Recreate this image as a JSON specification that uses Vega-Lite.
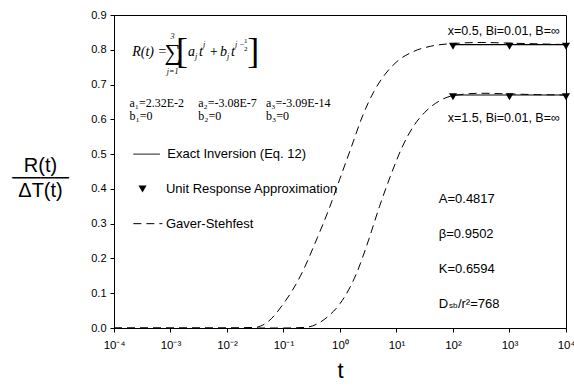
{
  "$schema": "https://vega.github.io/schema/vega-lite/v6.json",
  "width": 452,
  "height": 313,
  "autosize": {"type": "none"},
  "padding": {"left": 114, "top": 15, "right": 8, "bottom": 58},
  "background": "white",
  "config": {
    "view": {"stroke": "black", "strokeWidth": 1},
    "axis": {"grid": false, "domainColor": "black", "tickColor": "black", "labelColor": "black", "titleColor": "black", "labelFont": "Liberation Sans", "titleFont": "Liberation Sans", "labelFontSize": 11, "tickSize": 4, "titleFontWeight": "normal"}
  },
  "datasets": {
    "gs": [
      {"t": 0.0001, "r": 0, "s": "x05"},
      {"t": 0.001, "r": 0, "s": "x05"},
      {"t": 0.01, "r": 0, "s": "x05"},
      {"t": 0.0316, "r": 0.002, "s": "x05"},
      {"t": 0.0501, "r": 0.015, "s": "x05"},
      {"t": 0.1, "r": 0.07, "s": "x05"},
      {"t": 0.2, "r": 0.15, "s": "x05"},
      {"t": 0.398, "r": 0.26, "s": "x05"},
      {"t": 0.631, "r": 0.34, "s": "x05"},
      {"t": 1.0, "r": 0.43, "s": "x05"},
      {"t": 1.585, "r": 0.52, "s": "x05"},
      {"t": 2.512, "r": 0.61, "s": "x05"},
      {"t": 3.981, "r": 0.68, "s": "x05"},
      {"t": 6.31, "r": 0.73, "s": "x05"},
      {"t": 10, "r": 0.765, "s": "x05"},
      {"t": 19.95, "r": 0.795, "s": "x05"},
      {"t": 39.8, "r": 0.81, "s": "x05"},
      {"t": 100, "r": 0.818, "s": "x05"},
      {"t": 316, "r": 0.821, "s": "x05"},
      {"t": 1000, "r": 0.819, "s": "x05"},
      {"t": 3162, "r": 0.817, "s": "x05"},
      {"t": 10000, "r": 0.815, "s": "x05"},
      {"t": 0.0001, "r": 0, "s": "x15"},
      {"t": 0.01, "r": 0, "s": "x15"},
      {"t": 0.1, "r": 0, "s": "x15"},
      {"t": 0.251, "r": 0.002, "s": "x15"},
      {"t": 0.398, "r": 0.012, "s": "x15"},
      {"t": 0.631, "r": 0.035, "s": "x15"},
      {"t": 1.0, "r": 0.07, "s": "x15"},
      {"t": 1.995, "r": 0.16, "s": "x15"},
      {"t": 3.162, "r": 0.25, "s": "x15"},
      {"t": 5.012, "r": 0.35, "s": "x15"},
      {"t": 7.943, "r": 0.44, "s": "x15"},
      {"t": 12.59, "r": 0.52, "s": "x15"},
      {"t": 19.95, "r": 0.58, "s": "x15"},
      {"t": 31.62, "r": 0.62, "s": "x15"},
      {"t": 56.2, "r": 0.652, "s": "x15"},
      {"t": 100, "r": 0.668, "s": "x15"},
      {"t": 316, "r": 0.675, "s": "x15"},
      {"t": 1000, "r": 0.673, "s": "x15"},
      {"t": 3162, "r": 0.671, "s": "x15"},
      {"t": 10000, "r": 0.67, "s": "x15"}
    ],
    "exact": [
      {"t": 100, "r": 0.815, "s": "x05"},
      {"t": 10000, "r": 0.815, "s": "x05"},
      {"t": 100, "r": 0.67, "s": "x15"},
      {"t": 10000, "r": 0.67, "s": "x15"}
    ],
    "ura": [
      {"t": 100, "r": 0.81},
      {"t": 1000, "r": 0.81},
      {"t": 10000, "r": 0.81},
      {"t": 100, "r": 0.665},
      {"t": 1000, "r": 0.665},
      {"t": 10000, "r": 0.665},
      {"t": 0.00032, "r": 0.4}
    ],
    "legendLines": [
      {"t1": 0.00022, "t2": 0.00065, "r": 0.5, "kind": "solid"},
      {"t1": 0.00022, "t2": 0.00072, "r": 0.3, "kind": "dashed"}
    ],
    "sans13": [
      {"t": 0.00088, "r": 0.5, "label": "Exact Inversion (Eq. 12)"},
      {"t": 0.00083, "r": 0.4, "label": "Unit Response Approximation"},
      {"t": 0.00083, "r": 0.3, "label": "Gaver-Stehfest"},
      {"t": 56, "r": 0.37, "label": "A=0.4817"},
      {"t": 56, "r": 0.27, "label": "β=0.9502"},
      {"t": 56, "r": 0.17, "label": "K=0.6594"},
      {"t": 56, "r": 0.07, "label": "D"},
      {"t": 122, "r": 0.07, "label": "/r²=768"}
    ],
    "sub8": [
      {"t": 85, "r": 0.062, "label": "sb"}
    ],
    "sans12r": [
      {"t": 7800, "r": 0.853, "label": "x=0.5, Bi=0.01, B=∞"},
      {"t": 7800, "r": 0.603, "label": "x=1.5, Bi=0.01, B=∞"}
    ],
    "coef": [
      {"t": 0.000188, "r": 0.648, "label": "a₁=2.32E-2"},
      {"t": 0.000188, "r": 0.61, "label": "b₁=0"},
      {"t": 0.0031, "r": 0.648, "label": "a₂=-3.08E-7"},
      {"t": 0.0031, "r": 0.61, "label": "b₂=0"},
      {"t": 0.049, "r": 0.648, "label": "a₃=-3.09E-14"},
      {"t": 0.049, "r": 0.61, "label": "b₃=0"}
    ],
    "formula": [
      {"t": 0.00021, "r": 0.793, "label": "R(t) ="},
      {"t": 0.002042, "r": 0.793, "label": "a"},
      {"t": 0.003195, "r": 0.793, "label": "t"},
      {"t": 0.0048, "r": 0.793, "label": "+"},
      {"t": 0.007516, "r": 0.793, "label": "b"},
      {"t": 0.01178, "r": 0.793, "label": "t"}
    ],
    "scripts": [
      {"t": 0.002716, "r": 0.778, "label": "j"},
      {"t": 0.003758, "r": 0.815, "label": "j"},
      {"t": 0.01, "r": 0.778, "label": "j"},
      {"t": 0.01386, "r": 0.815, "label": "j −"}
    ],
    "half": [
      {"t": 0.0215, "r": 0.824, "label": "1"},
      {"t": 0.0215, "r": 0.803, "label": "2"}
    ],
    "sigma": [
      {"t": 0.00109, "r": 0.792, "label": "∑"}
    ],
    "limits": [
      {"t": 0.00109, "r": 0.836, "label": "3"},
      {"t": 0.00109, "r": 0.735, "label": "j=1"}
    ],
    "brackets": [
      {"t": 0.0016, "r": 0.795, "label": "["},
      {"t": 0.0292, "r": 0.795, "label": "]"}
    ]
  },
  "encoding": {
    "x": {"field": "t", "type": "quantitative", "scale": {"type": "log", "domain": [0.0001, 10000]},
      "axis": {"title": "t", "titleFontSize": 22, "titlePadding": 10, "values": [0.0001, 0.001, 0.01, 0.1, 1, 10, 100, 1000, 10000],
        "labelExpr": "['10⁻⁴','10⁻³','10⁻²','10⁻¹','10⁰','10¹','10²','10³','10⁴'][round(log(datum.value)/LN10)+4]", "labelPadding": 7, "labelFontSize": 11.5, "labelFlush": false}},
    "y": {"field": "r", "type": "quantitative", "scale": {"domain": [0, 0.9], "nice": false, "zero": true},
      "axis": {"title": ["R(t)", "────", "ΔT(t)"], "titleFontSize": 20, "titleLineHeight": 12.5, "titleAngle": 0, "titleX": -74, "titleY": 150, "titleAlign": "center", "titleBaseline": "middle",
        "values": [0, 0.1, 0.2, 0.3, 0.4, 0.5, 0.6, 0.7, 0.8, 0.9], "format": ".1f", "labelPadding": 4}}
  },
  "layer": [
    {"data": {"name": "gs"}, "mark": {"type": "line", "color": "black", "strokeWidth": 1, "strokeDash": [8, 5], "interpolate": "monotone"},
      "encoding": {"detail": {"field": "s"}}},
    {"data": {"name": "exact"}, "mark": {"type": "line", "color": "black", "strokeWidth": 1.2},
      "encoding": {"detail": {"field": "s"}}},
    {"data": {"name": "ura"}, "mark": {"type": "point", "shape": "triangle-down", "filled": true, "color": "black", "opacity": 1, "size": 65}},
    {"data": {"name": "legendLines"}, "mark": {"type": "rule", "color": "black", "strokeWidth": 1},
      "encoding": {"x": {"field": "t1", "type": "quantitative"}, "x2": {"field": "t2"},
        "strokeDash": {"field": "kind", "type": "nominal", "scale": {"domain": ["solid", "dashed"], "range": [[1, 0], [8, 5]]}, "legend": null}}},
    {"data": {"name": "sans13"}, "mark": {"type": "text", "font": "Liberation Sans", "fontSize": 13, "align": "left", "baseline": "middle", "color": "black"},
      "encoding": {"text": {"field": "label"}}},
    {"data": {"name": "sub8"}, "mark": {"type": "text", "font": "Liberation Sans", "fontSize": 8, "align": "left", "baseline": "middle", "color": "black"},
      "encoding": {"text": {"field": "label"}}},
    {"data": {"name": "sans12r"}, "mark": {"type": "text", "font": "Liberation Sans", "fontSize": 12.5, "align": "right", "baseline": "middle", "color": "black"},
      "encoding": {"text": {"field": "label"}}},
    {"data": {"name": "coef"}, "mark": {"type": "text", "font": "Liberation Serif", "fontSize": 12, "align": "left", "baseline": "middle", "color": "black"},
      "encoding": {"text": {"field": "label"}}},
    {"data": {"name": "formula"}, "mark": {"type": "text", "font": "Liberation Serif", "fontSize": 14, "fontStyle": "italic", "align": "left", "baseline": "middle", "color": "black"},
      "encoding": {"text": {"field": "label"}}},
    {"data": {"name": "scripts"}, "mark": {"type": "text", "font": "Liberation Serif", "fontSize": 8, "fontStyle": "italic", "align": "left", "baseline": "middle", "color": "black"},
      "encoding": {"text": {"field": "label"}}},
    {"data": {"name": "half"}, "mark": {"type": "text", "font": "Liberation Serif", "fontSize": 7, "align": "center", "baseline": "middle", "color": "black"},
      "encoding": {"text": {"field": "label"}}},
    {"data": {"name": "sigma"}, "mark": {"type": "text", "font": "Liberation Serif", "fontSize": 23, "align": "center", "baseline": "middle", "color": "black"},
      "encoding": {"text": {"field": "label"}}},
    {"data": {"name": "limits"}, "mark": {"type": "text", "font": "Liberation Serif", "fontSize": 8, "fontStyle": "italic", "align": "center", "baseline": "middle", "color": "black"},
      "encoding": {"text": {"field": "label"}}},
    {"data": {"name": "brackets"}, "mark": {"type": "text", "font": "Liberation Serif", "fontSize": 36, "align": "center", "baseline": "middle", "color": "black"},
      "encoding": {"text": {"field": "label"}}}
  ]
}
